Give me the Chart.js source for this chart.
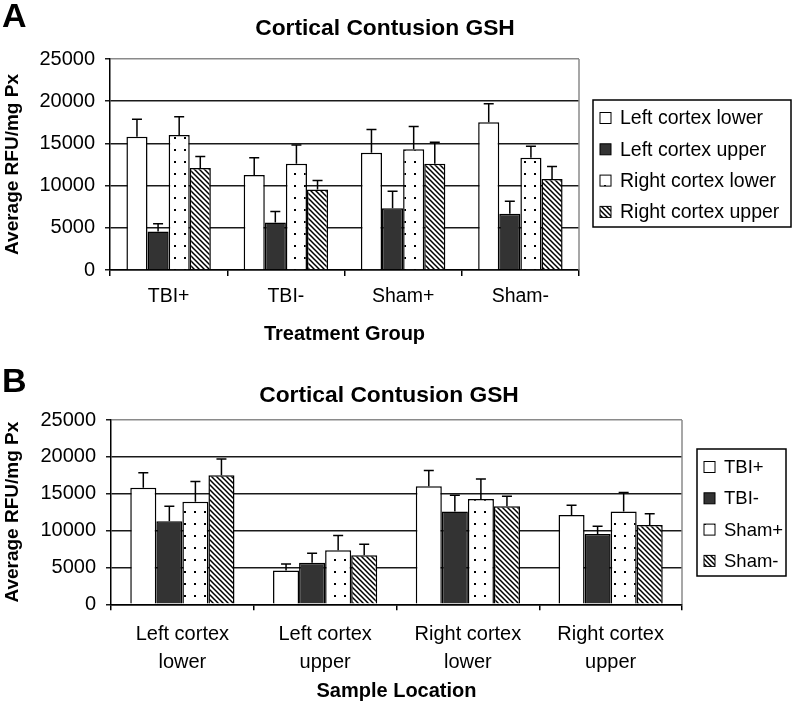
<!doctype html>
<html lang="en">
<head>
  <meta charset="utf-8">
  <title>Cortical Contusion GSH</title>
  <script src="https://cdn.jsdelivr.net/npm/chart.js@4.4.1/dist/chart.umd.min.js"></script>
  <style>
    body { margin: 0; background: #fff; }
    .panel { position: absolute; left: 0; }
  </style>
</head>
<body>
  <canvas id="chartA" class="panel" style="top:0" width="792" height="350"></canvas>
  <canvas id="chartB" class="panel" style="top:350px" width="792" height="355"></canvas>

  <script>
    // groups and sample locations
    const groups = ['TBI+', 'TBI-', 'Sham+', 'Sham-'];
    const regionNames = ['Left cortex lower', 'Left cortex upper', 'Right cortex lower', 'Right cortex upper'];
    const regionLabels = [['Left cortex', 'lower'], ['Left cortex', 'upper'], ['Right cortex', 'lower'], ['Right cortex', 'upper']];

    // mean GSH (RFU/mg Px) per group, one array per sample location
    const leftLower = [15800, 11250, 13900, 17500];
    const leftUpper = [4570, 5630, 7330, 6660];
    const rightLower = [16000, 12600, 14300, 13300];
    const rightUpper = [12100, 9540, 12600, 10770];

    // upper error bars
    const leftLowerErr = [2050, 2050, 2750, 2200];
    const leftUpperErr = [900, 1300, 2000, 1500];
    const rightLowerErr = [2150, 2200, 2700, 1350];
    const rightUpperErr = [1350, 1050, 2550, 1500];

    const yTicks = [0, 5000, 10000, 15000, 20000, 25000];

    const regionValues = [leftLower, leftUpper, rightLower, rightUpper];
    const regionErrors = [leftLowerErr, leftUpperErr, rightLowerErr, rightUpperErr];

    Chart.defaults.font.family = "'Liberation Sans', Arial, sans-serif";
    Chart.defaults.color = '#000';

    // fill patterns
    function dotPattern() {
      const c = document.createElement('canvas');
      c.width = 10; c.height = 12;
      const g = c.getContext('2d');
      g.fillStyle = '#fff'; g.fillRect(0, 0, 10, 12);
      g.fillStyle = '#000'; g.fillRect(4, 5, 2, 2);
      return g.createPattern(c, 'repeat');
    }
    function hatchPattern() {
      const s = 5;
      const c = document.createElement('canvas');
      c.width = s; c.height = s;
      const g = c.getContext('2d');
      g.fillStyle = '#fff'; g.fillRect(0, 0, s, s);
      g.strokeStyle = '#000'; g.lineWidth = 1.5;
      g.beginPath();
      g.moveTo(0, 0); g.lineTo(s, s);
      g.moveTo(-1, s - 1); g.lineTo(1, s + 1);
      g.moveTo(s - 1, -1); g.lineTo(s + 1, 1);
      g.stroke();
      return g.createPattern(c, 'repeat');
    }
    const fills = ['#ffffff', '#333333', dotPattern(), hatchPattern()];

    // error bars on top of each bar
    const errorBars = {
      id: 'errorBars',
      afterDatasetsDraw(chart, args, opts) {
        const ctx = chart.ctx;
        const y = chart.scales.y;
        chart.data.datasets.forEach((ds, di) => {
          chart.getDatasetMeta(di).data.forEach((bar, i) => {
            const top = y.getPixelForValue(ds.data[i] + ds.errors[i]);
            ctx.save();
            ctx.strokeStyle = '#000';
            ctx.lineWidth = 1.5;
            ctx.beginPath();
            ctx.moveTo(bar.x, bar.y);
            ctx.lineTo(bar.x, top);
            ctx.moveTo(bar.x - opts.cap, top);
            ctx.lineTo(bar.x + opts.cap, top);
            ctx.stroke();
            ctx.restore();
          });
        });
      }
    };

    // panel letter, title, right border and boxed legend
    const frame = {
      id: 'frame',
      afterDraw(chart, args, opts) {
        const ctx = chart.ctx;
        const a = chart.chartArea;
        ctx.save();
        ctx.strokeStyle = '#8a8a8a';
        ctx.lineWidth = 1.5;
        ctx.beginPath();
        ctx.moveTo(a.right, a.top);
        ctx.lineTo(a.right, a.bottom);
        ctx.stroke();

        ctx.fillStyle = '#000';
        ctx.textBaseline = 'middle';
        ctx.textAlign = 'left';
        ctx.font = "bold 34px 'Liberation Sans', Arial, sans-serif";
        ctx.fillText(opts.letter, 2, opts.letterY);
        ctx.textAlign = 'center';
        ctx.font = "bold 22.8px 'Liberation Sans', Arial, sans-serif";
        ctx.fillText(opts.title, opts.titleX, opts.titleY);

        const L = opts.legend;
        ctx.strokeStyle = '#000';
        ctx.lineWidth = 1.5;
        ctx.strokeRect(L.x, L.y, L.w, L.h);
        ctx.textAlign = 'left';
        ctx.font = L.size + "px 'Liberation Sans', Arial, sans-serif";
        chart.data.datasets.forEach((ds, i) => {
          const cy = L.y + 18 + i * 31.3;
          ctx.fillStyle = ds.backgroundColor;
          ctx.fillRect(L.x + 7, cy - 5.5, 11, 11);
          ctx.lineWidth = 1;
          ctx.strokeRect(L.x + 7, cy - 5.5, 11, 11);
          ctx.fillStyle = '#000';
          ctx.fillText(ds.label, L.x + 27, cy + 1);
        });
        ctx.restore();
      }
    };

    function makeOptions(cfg) {
      return {
        responsive: false,
        animation: false,
        devicePixelRatio: 1,
        layout: { padding: { left: 0, right: cfg.padRight, top: cfg.top, bottom: 0 } },
        datasets: { bar: { categoryPercentage: cfg.catPct, barPercentage: 1.0 } },
        plugins: {
          legend: { display: false },
          tooltip: { enabled: false },
          errorBars: { cap: 5 },
          frame: cfg.frame
        },
        scales: {
          x: {
            afterFit: (s) => { s.height = cfg.xHeight; },
            grid: { display: true, drawOnChartArea: false, drawTicks: true, tickLength: 6, offset: true, color: '#000', lineWidth: 1.5 },
            border: { display: true, color: '#000', width: 1.5 },
            ticks: { font: { size: cfg.xFont, lineHeight: 1.42 }, padding: cfg.xPad, maxRotation: 0, autoSkip: false },
            title: {
              display: true, text: cfg.xTitle,
              font: { size: 20, weight: 'bold' },
              padding: { top: 0, bottom: cfg.xTitlePad }
            }
          },
          y: {
            min: 0, max: 25000,
            afterFit: (s) => { s.width = cfg.yWidth; },
            afterBuildTicks: (s) => { s.ticks = yTicks.map(v => ({ value: v })); },
            grid: {
              color: (c) => (c.tick && c.tick.value === 25000 ? '#8a8a8a' : '#1a1a1a'),
              tickColor: '#1a1a1a', lineWidth: 1.5, tickLength: 5
            },
            border: { display: true, color: '#000', width: 1.5 },
            ticks: { font: { size: 20 }, padding: 10, callback: (v) => String(v) },
            title: {
              display: true, text: 'Average RFU/mg Px',
              font: { size: 19, weight: 'bold' },
              padding: { top: 1, bottom: 0 }
            }
          }
        }
      };
    }

    // A: grouped by treatment group
    new Chart(document.getElementById('chartA'), {
      type: 'bar',
      data: {
        labels: groups,
        datasets: regionNames.map((name, k) => ({
          label: name,
          data: regionValues[k],
          errors: regionErrors[k],
          backgroundColor: fills[k],
          borderColor: '#000',
          borderWidth: 1.5
        }))
      },
      options: makeOptions({
        padRight: 213, top: 59, xHeight: 80, yWidth: 110, catPct: 0.72,
        xFont: 19.5, xPad: 7, xTitle: 'Treatment Group', xTitlePad: 4,
        frame: { letter: 'A', letterY: 18, title: 'Cortical Contusion GSH', titleX: 385, titleY: 29,
                 legend: { x: 593, y: 100, w: 198, h: 127, size: 19.5 } }
      }),
      plugins: [errorBars, frame]
    });

    // B: grouped by sample location
    new Chart(document.getElementById('chartB'), {
      type: 'bar',
      data: {
        labels: regionLabels,
        datasets: groups.map((name, g) => ({
          label: name,
          data: regionValues.map(arr => arr[g]),
          errors: regionErrors.map(arr => arr[g]),
          backgroundColor: fills[g],
          borderColor: '#000',
          borderWidth: 1.5
        }))
      },
      options: makeOptions({
        padRight: 110, top: 70, xHeight: 100.7, yWidth: 111, catPct: 0.73,
        xFont: 20, xPad: 10, xTitle: 'Sample Location', xTitlePad: 2,
        frame: { letter: 'B', letterY: 33, title: 'Cortical Contusion GSH', titleX: 389, titleY: 46,
                 legend: { x: 697, y: 99, w: 89, h: 127, size: 18.5 } }
      }),
      plugins: [errorBars, frame]
    });
  </script>
</body>
</html>
